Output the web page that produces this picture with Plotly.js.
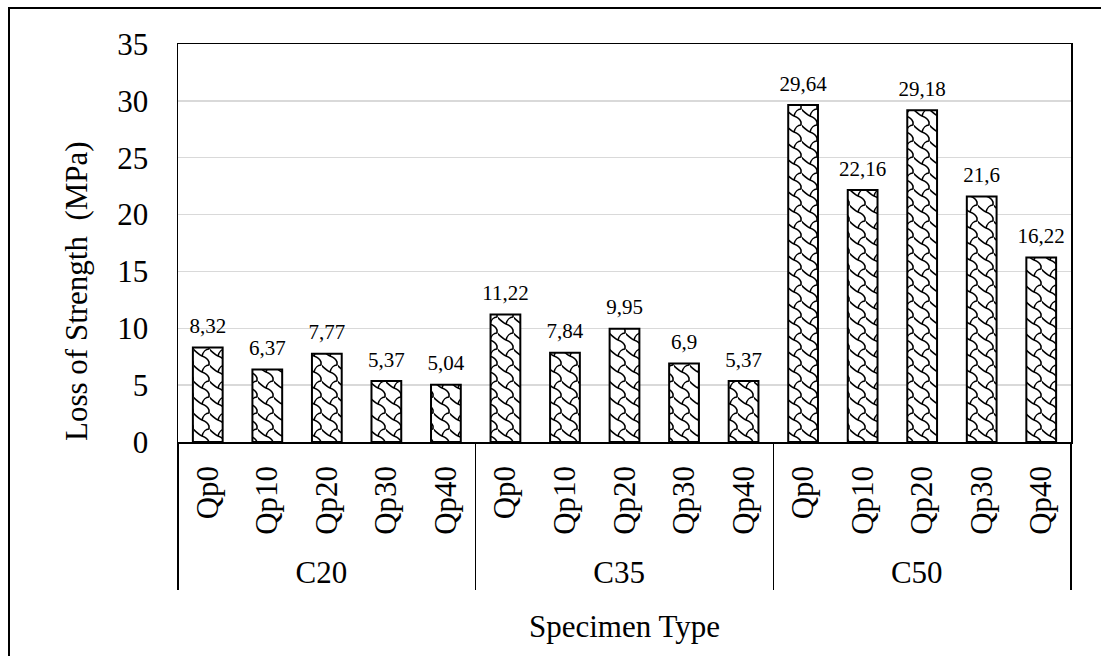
<!DOCTYPE html>
<html>
<head>
<meta charset="utf-8">
<script src="https://cdn.plot.ly/plotly-3.0.1.min.js"></script>
<style>
  html, body { margin: 0; padding: 0; background: #fff; overflow: hidden; }
  #frame { position: absolute; left: 8px; top: 7px; width: 1200px; height: 800px;
           border: 2px solid #000; box-sizing: border-box; }
  #chart { position: absolute; left: 0; top: 0; width: 1101px; height: 656px; }
</style>
</head>
<body>
<div id="frame"></div>
<div id="chart"></div>
<script>
// Concrete grades and replacement levels
const grades = ["C20", "C35", "C50"];
const levels = ["Qp0", "Qp10", "Qp20", "Qp30", "Qp40"];

// Loss of strength (MPa) per grade, in level order
const lossC20 = [8.32, 6.37, 7.77, 5.37, 5.04];
const lossC35 = [11.22, 7.84, 9.95, 6.9, 5.37];
const lossC50 = [29.64, 22.16, 29.18, 21.6, 16.22];

const yTicks = [0, 5, 10, 15, 20, 25, 30, 35];

const series = [lossC20, lossC35, lossC50];
const outer = [], inner = [], vals = [];
grades.forEach((g, gi) => {
  levels.forEach((l, li) => {
    outer.push(g);
    inner.push(l);
    vals.push(series[gi][li]);
  });
});
// decimal comma labels
const labels = vals.map(v => String(v).replace('.', ','));

const serif = "'Liberation Serif', 'Times New Roman', serif";

const bars = {
  type: 'bar',
  x: [outer, inner],
  y: vals,
  width: 0.5,
  marker: {
    color: '#fff',
    line: { color: '#000', width: 2 },
    pattern: { shape: '/', fgcolor: '#000', bgcolor: '#fff', size: 16, solidity: 0.1 }
  },
  hoverinfo: 'skip'
};

// value labels sitting above each bar
const valueLabels = {
  type: 'scatter',
  mode: 'markers+text',
  x: [outer, inner],
  y: vals,
  text: labels,
  textposition: 'top center',
  textfont: { family: serif, size: 21, color: '#000' },
  marker: { size: 13, color: 'rgba(0,0,0,0)' },
  cliponaxis: false,
  hoverinfo: 'skip'
};

const layout = {
  width: 1101,
  height: 656,
  margin: { l: 178, r: 30, t: 44, b: 214 },
  paper_bgcolor: 'rgba(0,0,0,0)',
  plot_bgcolor: '#fff',
  showlegend: false,
  font: { family: serif, color: '#000' },
  xaxis: {
    type: 'multicategory',
    range: [-0.5, 14.5],
    tickangle: -90,
    ticklabelstandoff: 10,
    tickfont: { family: serif, size: 31, color: '#000' },
    showline: true, linecolor: '#000', linewidth: 1.5, mirror: true,
    showdividers: true, dividercolor: '#000', dividerwidth: 1.5,
    ticks: '',
    showgrid: false
  },
  yaxis: {
    range: [0, 35],
    tickvals: yTicks,
    ticks: '',
    ticklen: 0,
    ticklabelstandoff: 22,
    tickfont: { family: serif, size: 31, color: '#000' },
    showline: true, linecolor: '#000', linewidth: 1.5, mirror: true,
    showgrid: true, gridcolor: '#d9d9d9', gridwidth: 1.5,
    zeroline: false
  },
  annotations: [
    { text: 'Specimen Type', xref: 'paper', yref: 'paper', x: 0.5, y: -0.4648,
      xanchor: 'center', yanchor: 'middle', showarrow: false,
      font: { family: serif, size: 31, color: '#000' } },
    { text: 'Loss of Strength\u00a0\u00a0(MPa)', xref: 'paper', yref: 'paper', x: -0.1131, y: 0.3794,
      xanchor: 'center', yanchor: 'middle', textangle: -90, showarrow: false,
      font: { family: serif, size: 31, color: '#000' } }
  ]
};

// shingle tile (16px): a curving diagonal with an up-right branch
const TILE = 16;
const shingle =
  'M-1,1 C2,4 5,7 8,8 S14,11 15,14 L15,17 ' +
  'M15,-1 L15,1 C12,1 9,4 8,8 ' +
  'M-1,-1 L-1,1';

const SVGNS = 'http://www.w3.org/2000/svg';
Plotly.newPlot('chart', [bars, valueLabels], layout, { displayModeBar: false, staticPlot: true })
  .then(gd => {
    gd.querySelectorAll('pattern').forEach(pat => {
      pat.setAttribute('patternUnits', 'userSpaceOnUse');
      pat.setAttribute('width', TILE);
      pat.setAttribute('height', TILE);
      pat.removeAttribute('patternTransform');
      pat.removeAttribute('viewBox');
      while (pat.firstChild) pat.removeChild(pat.firstChild);
      const bg = document.createElementNS(SVGNS, 'rect');
      bg.setAttribute('width', TILE);
      bg.setAttribute('height', TILE);
      bg.setAttribute('fill', '#fff');
      const ln = document.createElementNS(SVGNS, 'path');
      ln.setAttribute('d', shingle);
      ln.setAttribute('fill', 'none');
      ln.setAttribute('stroke', '#000');
      ln.setAttribute('stroke-width', '1.6');
      ln.setAttribute('stroke-linejoin', 'round');
      ln.setAttribute('stroke-linecap', 'round');
      pat.appendChild(bg);
      pat.appendChild(ln);
    });
  });
</script>
</body>
</html>
